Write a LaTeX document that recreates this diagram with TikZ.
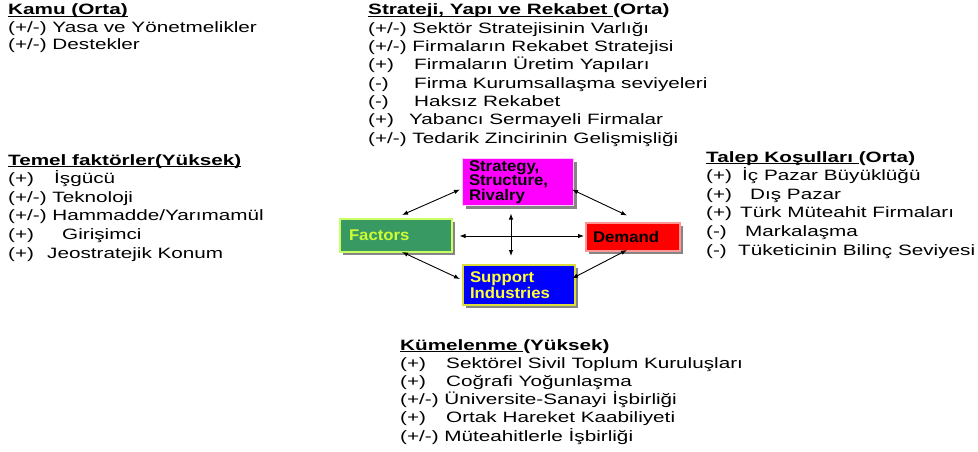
\documentclass[tikz,border=0pt]{standalone}
\usepackage{fontspec}
\setmainfont{Liberation Sans}[FakeStretch=1.38]
\newfontfamily\boxfont{Liberation Sans}[FakeStretch=1.08]
\usetikzlibrary{shadows,arrows.meta}
\definecolor{strmag}{RGB}{255,0,255}
\definecolor{strborder}{RGB}{255,200,255}
\definecolor{facgreen}{RGB}{57,153,99}
\definecolor{facborder}{RGB}{204,255,102}
\definecolor{factext}{RGB}{204,255,51}
\definecolor{demred}{RGB}{255,0,0}
\definecolor{demborder}{RGB}{255,150,150}
\definecolor{supblue}{RGB}{0,0,255}
\definecolor{supborder}{RGB}{220,220,60}
\definecolor{suptext}{RGB}{255,255,51}
\newcommand\myul[1]{\setbox0\hbox{#1}\rlap{\rule[-2.4pt]{\wd0}{1.2pt}}\box0}
\newcommand\pf[2]{\makebox[#1pt][l]{#2}}
\begin{document}
\begin{tikzpicture}[x=1pt,y=-1pt,
  txt/.style={anchor=base west, inner sep=0pt, align=left, font=\fontsize{15}{18.3}\selectfont},
  box/.style={draw, line width=1.1pt, inner sep=0pt, align=left,
    font=\boxfont\bfseries\fontsize{15.5}{14.4}\selectfont,
    drop shadow={shadow xshift=3pt, shadow yshift=-3pt, fill=black!60, opacity=0.8}},
  arr/.style={{Latex[length=6pt,width=4.5pt]}-{Latex[length=6pt,width=4.5pt]}, line width=0.9pt}]
\useasboundingbox (0,0) rectangle (978,452);

% text blocks (anchor = baseline of the last line)
\node[txt, font=\fontsize{15}{17.5}\selectfont] (kamu) at (8,50)
  {\textbf{\myul{Kamu (Orta)}}\\
   (+/-) Yasa ve Yönetmelikler\\
   (+/-) Destekler};

\node[txt] (strat) at (368,143)
  {\textbf{\myul{Strateji, Yapı ve Rekabet\ }(Orta)}\\
   (+/-) Sektör Stratejisinin Varlığı\\
   (+/-) Firmaların Rekabet Stratejisi\\
   \pf{46}{(+)}Firmaların Üretim Yapıları\\
   \pf{46}{(-)}Firma Kurumsallaşma seviyeleri\\
   \pf{46}{(-)}Haksız Rekabet\\
   \pf{41}{(+)}Yabancı Sermayeli Firmalar\\
   (+/-) Tedarik Zincirinin Gelişmişliği};

\node[txt, font=\fontsize{15}{18.6}\selectfont] (temel) at (8,258)
  {\textbf{\myul{Temel faktörler(Yüksek)}}\\
   \pf{46}{(+)}İşgücü\\
   (+/-) Teknoloji\\
   (+/-) Hammadde/Yarımamül\\
   \pf{54}{(+)}Girişimci\\
   \pf{39}{(+)}Jeostratejik Konum};

\node[txt, font=\fontsize{15}{18.6}\selectfont] (talep) at (706,255)
  {\textbf{\myul{Talep Koşulları\ }(Orta)}\\
   \pf{36}{(+)}İç Pazar Büyüklüğü\\
   \pf{44}{(+)}Dış Pazar\\
   \pf{34}{(+)}Türk Müteahit Firmaları\\
   \pf{39}{(-)}Markalaşma\\
   \pf{32}{(-)}Tüketicinin Bilinç Seviyesi};

\node[txt, font=\fontsize{15}{18.2}\selectfont] (kume) at (400,441)
  {\textbf{\myul{Kümelenme\ }(Yüksek)}\\
   \pf{46}{(+)}Sektörel Sivil Toplum Kuruluşları\\
   \pf{46}{(+)}Coğrafi Yoğunlaşma\\
   (+/-) Üniversite-Sanayi İşbirliği\\
   \pf{46}{(+)}Ortak Hareket Kaabiliyeti\\
   (+/-) Müteahitlerle İşbirliği};

% diamond boxes
\node[box, fill=strmag, draw=strborder, minimum width=111pt, minimum height=47pt, text width=98pt] (str) at (518,182)
  {Strategy,\\Structure,\\Rivalry};
\node[box, fill=facgreen, draw=facborder, text=factext, minimum width=112pt, minimum height=33pt, text width=94pt] (fac) at (396,235.5)
  {Factors};
\node[box, fill=demred, draw=demborder, minimum width=94pt, minimum height=28pt, text width=80pt] (dem) at (633,237)
  {Demand};
\node[box, fill=supblue, draw=supborder, text=suptext, minimum width=112pt, minimum height=40pt, text width=98pt] (sup) at (519,285)
  {Support\\Industries};

% arrow end points
\coordinate (fs1) at (402,215);
\coordinate (fs2) at (460,189.5);
\coordinate (sd1) at (572,189.5);
\coordinate (sd2) at (627,215.5);
\coordinate (fd1) at (459.5,236);
\coordinate (fd2) at (584,236);
\coordinate (v1) at (511,213.5);
\coordinate (v2) at (511,256);
\coordinate (fu1) at (402,252);
\coordinate (fu2) at (460,279);
\coordinate (du1) at (627,250);
\coordinate (du2) at (572,278.5);

\draw[arr] (fs1) -- (fs2);
\draw[arr] (sd1) -- (sd2);
\draw[arr] (fd1) -- (fd2);
\draw[arr] (v1) -- (v2);
\draw[arr] (fu1) -- (fu2);
\draw[arr] (du1) -- (du2);
\end{tikzpicture}
\end{document}
